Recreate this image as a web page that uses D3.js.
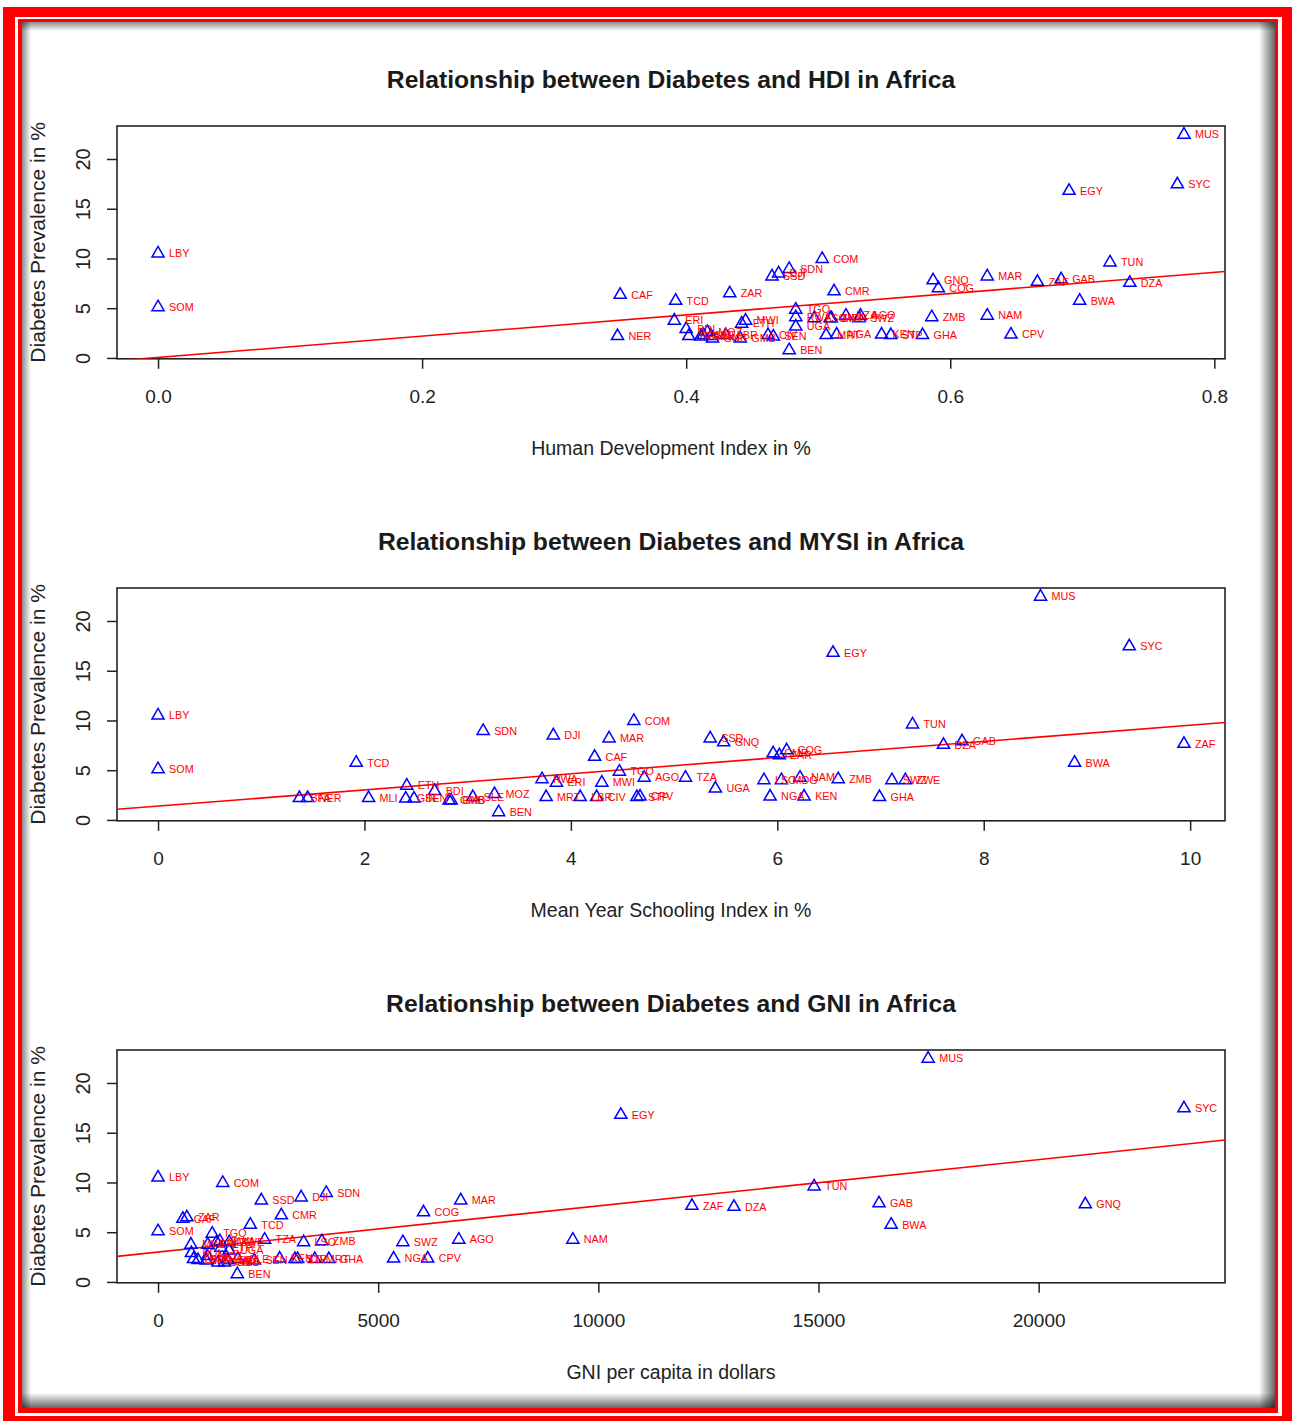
<!DOCTYPE html>
<html>
<head>
<meta charset="utf-8">
<script src="https://cdnjs.cloudflare.com/ajax/libs/d3/7.8.5/d3.min.js"></script>
<style>
  body { margin: 0; background: #fff; }
  svg text { font-family: "Liberation Sans", Arial, sans-serif; }
</style>
</head>
<body>
<div id="chart"></div>
<script>
// Country codes as printed on the chart (ZAR = DR Congo)
var countries = ['LBY','SOM','MUS','SYC','EGY','COM','TUN','SDN','DJI','SSD',
  'MAR','GAB','GNQ','ZAF','DZA','COG','CMR','ZAR','CAF','TCD',
  'BWA','TGO','AGO','TZA','NAM','ZMB','SWZ','ZWE','LSO','MDG',
  'RWA','ERI','MWI','ETH','UGA','BDI','MOZ','NGA','KEN','GHA',
  'CPV','STP','SLE','MRT','LBR','CIV','NER','BFA','MLI','GIN',
  'SEN','GMB','GNB','BEN'];

// Diabetes prevalence in %
var diabetes = [10.5, 5.1, 22.45, 17.45, 16.8, 9.95, 9.6, 8.95, 8.5, 8.2,
  8.2, 7.9, 7.8, 7.65, 7.55, 7.0, 6.7, 6.5, 6.35, 5.75,
  5.75, 4.85, 4.25, 4.25, 4.25, 4.1, 4.0, 4.0, 4.0, 4.0,
  4.1, 3.75, 3.75, 3.45, 3.15, 2.9, 2.6, 2.35, 2.35, 2.3,
  2.35, 2.3, 2.3, 2.3, 2.3, 2.3, 2.2, 2.2, 2.2, 2.15,
  2.15, 1.95, 1.95, 0.78];

// Human Development Index
var hdi = [0, 0, 0.777, 0.772, 0.690, 0.503, 0.721, 0.478, 0.470, 0.465,
  0.628, 0.684, 0.587, 0.666, 0.736, 0.591, 0.512, 0.433, 0.350, 0.392,
  0.698, 0.483, 0.532, 0.521, 0.628, 0.586, 0.531, 0.509, 0.497, 0.510,
  0.483, 0.391, 0.445, 0.442, 0.483, 0.400, 0.416, 0.514, 0.548, 0.579,
  0.646, 0.555, 0.413, 0.506, 0.430, 0.462, 0.348, 0.402, 0.419, 0.411,
  0.466, 0.441, 0.420, 0.478];

// Mean years of schooling
var mysi = [0, 0, 8.55, 9.41, 6.54, 4.61, 7.31, 3.15, 3.83, 5.35,
  4.37, 7.79, 5.48, 9.94, 7.61, 6.09, 5.96, 6.02, 4.23, 1.92,
  8.88, 4.47, 4.71, 5.11, 6.22, 6.59, 7.11, 7.24, 5.87, 6.04,
  3.72, 3.86, 4.30, 2.41, 5.40, 2.68, 3.26, 5.93, 6.26, 6.99,
  4.67, 4.64, 3.05, 3.76, 4.09, 4.25, 1.45, 1.37, 2.04, 2.40,
  2.48, 2.82, 2.84, 3.30];

// GNI per capita in dollars
var gni = [0, 0, 17490, 23300, 10510, 1470, 14900, 3820, 3250, 2345,
  6875, 16375, 21060, 12125, 13080, 6030, 2800, 655, 564, 2095,
  16650, 1230, 6830, 2420, 9420, 3720, 5560, 1615, 3306, 1328,
  1403, 1130, 747, 1428, 1613, 758, 1123, 5350, 2762, 3880,
  6125, 3111, 1815, 3560, 805, 3171, 908, 1591, 1583, 1096,
  2188, 1507, 1362, 1800];

var diabTicks = [0, 5, 10, 15, 20];
var hdiTicks = [0, 0.2, 0.4, 0.6, 0.8];
var mysiTicks = [0, 2, 4, 6, 8, 10];
var gniTicks = [0, 5000, 10000, 15000, 20000];

// fitted lines as drawn: [intercept, slope]
var hdiFit = [0.05, 10.7];
var mysiFit = [1.39, 0.813];
var gniFit = [3.0, 0.000465];

var w = 1292;
var h = 1421;
var boxLeft = 117, boxRight = 1225, boxTop = 126, boxHeight = 232.8;
var panelStep = 462;

var svg = d3.select('#chart').append('svg')
  .attr('width', w)
  .attr('height', h);

var defs = svg.append('defs');

function addShade(id, x1, y1, x2, y2, opacity) {
  var g = defs.append('linearGradient').attr('id', id)
    .attr('x1', x1).attr('y1', y1).attr('x2', x2).attr('y2', y2);
  g.append('stop').attr('offset', '0%').attr('stop-color', '#000').attr('stop-opacity', opacity);
  g.append('stop').attr('offset', '100%').attr('stop-color', '#000').attr('stop-opacity', 0);
}

// Double red frame with an inner shadow
function drawFrame() {
  svg.append('rect').attr('x', 3).attr('y', 7).attr('width', 1300).attr('height', 1430).attr('fill', '#ff0000');
  svg.append('rect').attr('x', 15).attr('y', 17).attr('width', 1267).attr('height', 1399).attr('fill', '#fff');
  svg.append('rect').attr('x', 18).attr('y', 19).attr('width', 1260).attr('height', 1394).attr('fill', '#ff0000');
  svg.append('rect').attr('x', 22).attr('y', 22).attr('width', 1253).attr('height', 1386).attr('fill', '#fff');

  addShade('shTop', 0, 0, 0, 1, 0.45);
  addShade('shLeft', 0, 0, 1, 0, 0.45);
  addShade('shRight', 1, 0, 0, 0, 0.6);
  addShade('shBottom', 0, 1, 0, 0, 0.6);
  svg.append('rect').attr('x', 22).attr('y', 22).attr('width', 1253).attr('height', 9).attr('fill', 'url(#shTop)');
  svg.append('rect').attr('x', 22).attr('y', 22).attr('width', 9).attr('height', 1386).attr('fill', 'url(#shLeft)');
  svg.append('rect').attr('x', 1259).attr('y', 22).attr('width', 16).attr('height', 1386).attr('fill', 'url(#shRight)');
  svg.append('rect').attr('x', 22).attr('y', 1393).attr('width', 1253).attr('height', 15).attr('fill', 'url(#shBottom)');
}

// R style axis range: data range extended by 4% each side
function padDomain(vals) {
  var e = d3.extent(vals);
  var pad = (e[1] - e[0]) * 0.04;
  return [e[0] - pad, e[1] + pad];
}

var panels = [
  {title: 'Relationship between Diabetes and HDI in Africa', xlab: 'Human Development Index in %',
   xs: hdi, ticks: hdiTicks, fmt: d3.format('.1f'), fit: hdiFit},
  {title: 'Relationship between Diabetes and MYSI in Africa', xlab: 'Mean Year Schooling Index in %',
   xs: mysi, ticks: mysiTicks, fmt: d3.format('d'), fit: mysiFit},
  {title: 'Relationship between Diabetes and GNI in Africa', xlab: 'GNI per capita in dollars',
   xs: gni, ticks: gniTicks, fmt: d3.format('d'), fit: gniFit}
];

function drawPanel(p, i) {
  var top = boxTop + i * panelStep;
  var bottom = top + boxHeight;
  var midX = (boxLeft + boxRight) / 2;

  var x = d3.scaleLinear().domain(padDomain(p.xs)).range([boxLeft, boxRight]);
  var y = d3.scaleLinear().domain(padDomain(diabetes)).range([bottom, top]);

  var g = svg.append('g');

  g.append('clipPath').attr('id', 'clip' + i)
    .append('rect').attr('x', boxLeft).attr('y', top)
    .attr('width', boxRight - boxLeft).attr('height', boxHeight);

  // x axis
  var xa = g.append('g')
    .attr('transform', 'translate(0,' + bottom + ')')
    .call(d3.axisBottom(x).tickValues(p.ticks).tickFormat(p.fmt).tickSize(10));
  xa.select('.domain').remove();
  xa.selectAll('line').attr('stroke', '#222').attr('stroke-width', 1.5);
  xa.selectAll('text')
    .attr('y', 38).attr('dy', '0.35em')
    .attr('fill', '#222').style('font-size', '19px');

  // y axis, labels parallel to the axis
  var ya = g.append('g')
    .attr('transform', 'translate(' + boxLeft + ',0)')
    .call(d3.axisLeft(y).tickValues(diabTicks).tickSize(10));
  ya.select('.domain').remove();
  ya.selectAll('line').attr('stroke', '#222').attr('stroke-width', 1.5);
  ya.selectAll('text')
    .attr('transform', 'rotate(-90)')
    .attr('x', 0).attr('y', -34).attr('dy', '0.35em')
    .attr('text-anchor', 'middle')
    .attr('fill', '#222').style('font-size', '20px');

  g.append('rect')
    .attr('x', boxLeft).attr('y', top)
    .attr('width', boxRight - boxLeft).attr('height', boxHeight)
    .attr('fill', 'none').attr('stroke', '#222').attr('stroke-width', 1.6);

  // titles
  g.append('text')
    .attr('x', midX).attr('y', top - 47).attr('dy', '0.35em')
    .attr('text-anchor', 'middle')
    .style('font-size', '24.7px').style('font-weight', 'bold')
    .attr('fill', '#1a1a1a')
    .text(p.title);

  g.append('text')
    .attr('x', midX).attr('y', bottom + 89).attr('dy', '0.35em')
    .attr('text-anchor', 'middle')
    .style('font-size', '19.5px').attr('fill', '#222')
    .text(p.xlab);

  g.append('text')
    .attr('transform', 'translate(37.5,' + ((top + bottom) / 2) + ') rotate(-90)')
    .attr('dy', '0.35em').attr('text-anchor', 'middle')
    .style('font-size', '21px').attr('fill', '#222')
    .text('Diabetes Prevalence in %');

  // regression line
  var xd = x.domain();
  g.append('line')
    .attr('clip-path', 'url(#clip' + i + ')')
    .attr('x1', x(xd[0])).attr('y1', y(p.fit[0] + p.fit[1] * xd[0]))
    .attr('x2', x(xd[1])).attr('y2', y(p.fit[0] + p.fit[1] * xd[1]))
    .attr('stroke', '#ff0000').attr('stroke-width', 1.6);

  var rows = countries.map(function(c, k) {
    return {code: c, xv: p.xs[k], yv: diabetes[k]};
  });

  g.append('g').selectAll('path')
    .data(rows)
    .enter().append('path')
    .attr('d', d3.symbol(d3.symbolTriangle).size(64))
    .attr('transform', function(d) { return 'translate(' + x(d.xv) + ',' + y(d.yv) + ')'; })
    .attr('fill', 'none')
    .attr('stroke', '#0000ff')
    .attr('stroke-width', 1.5);

  g.append('g').selectAll('text')
    .data(rows)
    .enter().append('text')
    .attr('x', function(d) { return x(d.xv) + 11; })
    .attr('y', function(d) { return y(d.yv); })
    .attr('dy', '0.35em')
    .style('font-size', '10.8px')
    .attr('fill', '#ff0000')
    .text(function(d) { return d.code; });
}

drawFrame();
panels.forEach(drawPanel);
</script>
</body>
</html>
